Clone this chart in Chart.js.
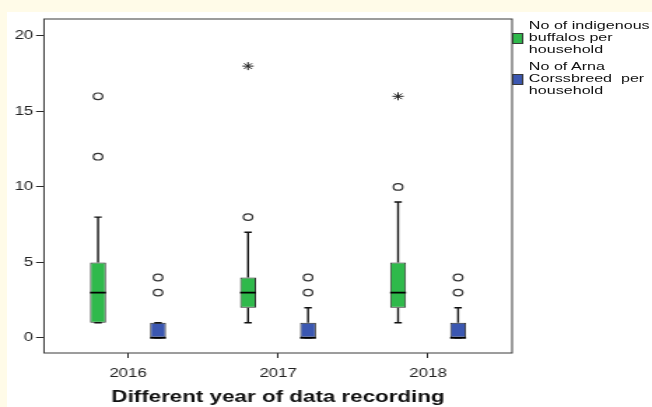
<!DOCTYPE html>
<html><head><meta charset="utf-8">
<script src="https://cdn.jsdelivr.net/npm/chart.js@4.4.1/dist/chart.umd.min.js"></script>
<style>
html,body{margin:0;padding:0;background:#fffbe8;width:652px;height:407px;overflow:hidden;font-family:"Liberation Sans",Arial,sans-serif}
#panel{position:absolute;left:7px;top:12px;width:645px;height:395px;background:#fff}
#wrap{position:absolute;left:0;top:0;width:466px;height:407px;transform:scaleX(1.3991);transform-origin:0 0}
#c{position:absolute;left:0;top:0;width:466px;height:407px}
.lg{position:absolute;left:378px;font-size:11.5px;line-height:12.4px;color:#111;white-space:nowrap}
.sw{position:absolute;left:366px;width:8px;height:10.5px;box-sizing:border-box;border:1px solid #3a3a3a}
</style></head>
<body>
<div id="panel"></div>
<div id="wrap">
<canvas id="c" width="466" height="407"></canvas>
<div class="sw" style="top:33px;background:#2fb94b"></div>
<div class="lg" style="top:18.6px">No of indigenous<br>buffalos per<br>household</div>
<div class="sw" style="top:74px;background:#3b57b1"></div>
<div class="lg" style="top:59.6px">No of Arna<br>Corssbreed&nbsp; per<br>household</div>
</div>
<script>
// ---- data ----
const years = [2016, 2017, 2018];
const yTickValues = [0, 5, 10, 15, 20];
const xTitle = 'Different year of data recording';

const indigQ1 = [1, 2, 2];
const indigMedian = [3, 3, 3];
const indigQ3 = [5, 4, 5];
const indigLow = [1, 1, 1];
const indigHigh = [8, 7, 9];
const indigOutliers = [[12, 16], [8], [10]];
const indigExtremes = [[], [18], [16]];

const arnaQ1 = [0, 0, 0];
const arnaMedian = [0, 0, 0];
const arnaQ3 = [1, 1, 1];
const arnaLow = [0, 0, 0];
const arnaHigh = [1, 2, 2];
const arnaOutliers = [[3, 4], [3, 4], [3, 4]];
const arnaExtremes = [[], [], []];

// ---- styling ----
const GREEN = '#2fb94b', BLUE = '#3b57b1', DARK = '#2a2a2a';
const OFFSET = 0.2, CAP = 0.025, HALF_BOX = 0.053;

function buildSeries(q1, med, q3, low, high, outs, exts, off, color) {
  const boxes = [], whisk = [], meds = [], outPts = [], extPts = [];
  years.forEach((yr, i) => {
    const x = yr + off;
    boxes.push({x: x, y: [q1[i], q3[i]]});
    whisk.push({x: x, y: q3[i]}, {x: x, y: high[i]}, {x: x, y: null},
               {x: x - CAP, y: high[i]}, {x: x + CAP, y: high[i]}, {x: x, y: null},
               {x: x, y: low[i]}, {x: x, y: q1[i]}, {x: x, y: null},
               {x: x - CAP, y: low[i]}, {x: x + CAP, y: low[i]}, {x: x, y: null});
    meds.push({x: x - HALF_BOX, y: med[i]}, {x: x + HALF_BOX, y: med[i]}, {x: x, y: null});
    outs[i].forEach(v => outPts.push({x: x, y: v}));
    exts[i].forEach(v => extPts.push({x: x, y: v}));
  });
  return [
    {type: 'bar', data: boxes, backgroundColor: color, borderColor: DARK, borderWidth: 1,
     borderSkipped: false, grouped: false, maxBarThickness: 11.4, order: 4},
    {type: 'line', data: whisk, borderColor: '#111', borderWidth: 1.4, pointRadius: 0,
     spanGaps: false, fill: false, order: 3},
    {type: 'line', data: meds, borderColor: '#000', borderWidth: 1.8, pointRadius: 0,
     spanGaps: false, fill: false, order: 2},
    {type: 'scatter', data: outPts, pointStyle: 'circle', pointRadius: 3.3,
     pointBackgroundColor: '#fff', pointBorderColor: '#333', pointBorderWidth: 1.2, order: 1},
    {type: 'scatter', data: extPts, pointStyle: 'star', pointRadius: 4,
     pointBorderColor: '#222', pointBorderWidth: 1, order: 1}
  ];
}

const datasets = [
  ...buildSeries(indigQ1, indigMedian, indigQ3, indigLow, indigHigh, indigOutliers, indigExtremes, -OFFSET, GREEN),
  ...buildSeries(arnaQ1, arnaMedian, arnaQ3, arnaLow, arnaHigh, arnaOutliers, arnaExtremes, OFFSET, BLUE)
];

const framePlugin = {
  id: 'frame',
  afterDraw(chart) {
    const a = chart.chartArea, ctx = chart.ctx;
    ctx.save();
    ctx.strokeStyle = '#3a3a3a';
    ctx.lineWidth = 1;
    ctx.strokeRect(a.left, a.top, a.right - a.left, a.bottom - a.top);
    ctx.restore();
  }
};

const tickFont = {family: '"Liberation Sans", Arial, sans-serif', size: 12};

new Chart(document.getElementById('c'), {
  type: 'bar',
  data: {datasets},
  options: {
    responsive: false,
    animation: false,
    devicePixelRatio: 1,
    layout: {padding: {left: 0, top: 19, right: 100, bottom: 0}},
    plugins: {legend: {display: false}, tooltip: {enabled: false}},
    scales: {
      x: {
        type: 'linear', min: 2015.44, max: 2018.56, offset: false,
        afterBuildTicks: s => { s.ticks = years.map(v => ({value: v})); },
        afterFit: s => { s.height = 54; },
        grid: {display: true, offset: false, drawOnChartArea: false, drawTicks: true, tickLength: 5, color: DARK, lineWidth: 1},
        border: {display: false},
        ticks: {font: tickFont, color: '#222', padding: 8, callback: v => String(v), maxRotation: 0, autoSkip: false},
        title: {display: true, text: xTitle, color: '#111', padding: {top: 0, bottom: 0},
                font: {family: '"Liberation Sans", Arial, sans-serif', size: 16, weight: 'bold'}}
      },
      y: {
        type: 'linear', min: -1, max: 21.12,
        afterBuildTicks: s => { s.ticks = yTickValues.map(v => ({value: v})); },
        afterFit: s => { s.width = 31.45; },
        grid: {display: true, drawOnChartArea: false, drawTicks: true, tickLength: 5.7, color: DARK, lineWidth: 1},
        border: {display: false},
        ticks: {font: tickFont, color: '#222', padding: 2, callback: v => String(v)}
      }
    }
  },
  plugins: [framePlugin]
});
</script>
</body></html>
